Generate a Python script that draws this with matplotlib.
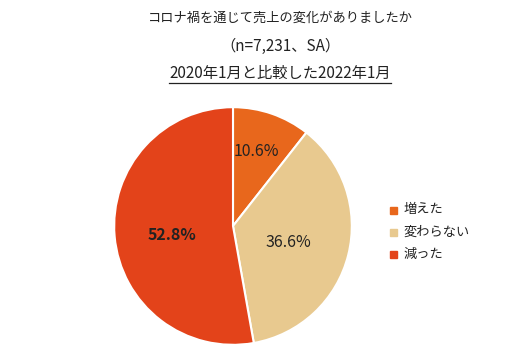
import matplotlib
matplotlib.use("Agg")
import matplotlib.pyplot as plt
from matplotlib.lines import Line2D

plt.rcParams['font.family'] = ['Noto Sans CJK JP', 'DejaVu Sans']

categories = ["増えた", "変わらない", "減った"]
shares = [10.6, 36.6, 52.8]
colors = ["#E8671C", "#E8C98F", "#E3431A"]
title_lines = ["コロナ禍を通じて売上の変化がありましたか", "（n=7,231、SA）", "2020年1月と比較した2022年1月"]

W, H = 524, 364
fig = plt.figure(figsize=(W / 100, H / 100), dpi=100)

# pie area in pixels: center (233, 226), radius 120
cx, cy, r = 233, 226, 120
ax = fig.add_axes([(cx - r) / W, (H - cy - r) / H, 2 * r / W, 2 * r / H])
wedges, _ = ax.pie(shares, colors=colors, startangle=90, counterclock=False,
                   wedgeprops=dict(edgecolor="white", linewidth=1.5))
ax.set_xlim(-1.01, 1.01)
ax.set_ylim(-1.01, 1.01)
ax.set_aspect("equal")

label_pos = [(0.20, 0.63), (0.47, -0.14), (-0.51, -0.075)]
for v, (x, y), w in zip(shares, label_pos, ["normal", "normal", "bold"]):
    ax.text(x, y, f"{v:.1f}%", ha="center", va="center", fontsize=11.5,
            color="#222222", fontweight=w)

# legend
for i, (lab, c) in enumerate(zip(categories, colors)):
    y = 1 - (210 + 22 * i) / H
    fig.patches.append(plt.Rectangle((390 / W, y - 3.5 / H), 7 / W, 7 / H,
                                     transform=fig.transFigure, color=c))
    fig.text(403 / W, y, lab, ha="left", va="center", fontsize=9.5, color="#222222")

ys = [18, 46, 73]
sizes = [9.5, 11, 11]
texts = []
for t, y, s in zip(title_lines, ys, sizes):
    texts.append(fig.text(280 / W, 1 - y / H, t, ha="center", va="center",
                          fontsize=s, color="#222222"))

fig.canvas.draw()
bb = texts[2].get_window_extent()
uy = (bb.y0 - 1) / H
fig.add_artist(Line2D([bb.x0 / W, bb.x1 / W], [uy, uy], transform=fig.transFigure,
                      color="#222222", linewidth=0.9))

fig.savefig("out.png", dpi=100)
